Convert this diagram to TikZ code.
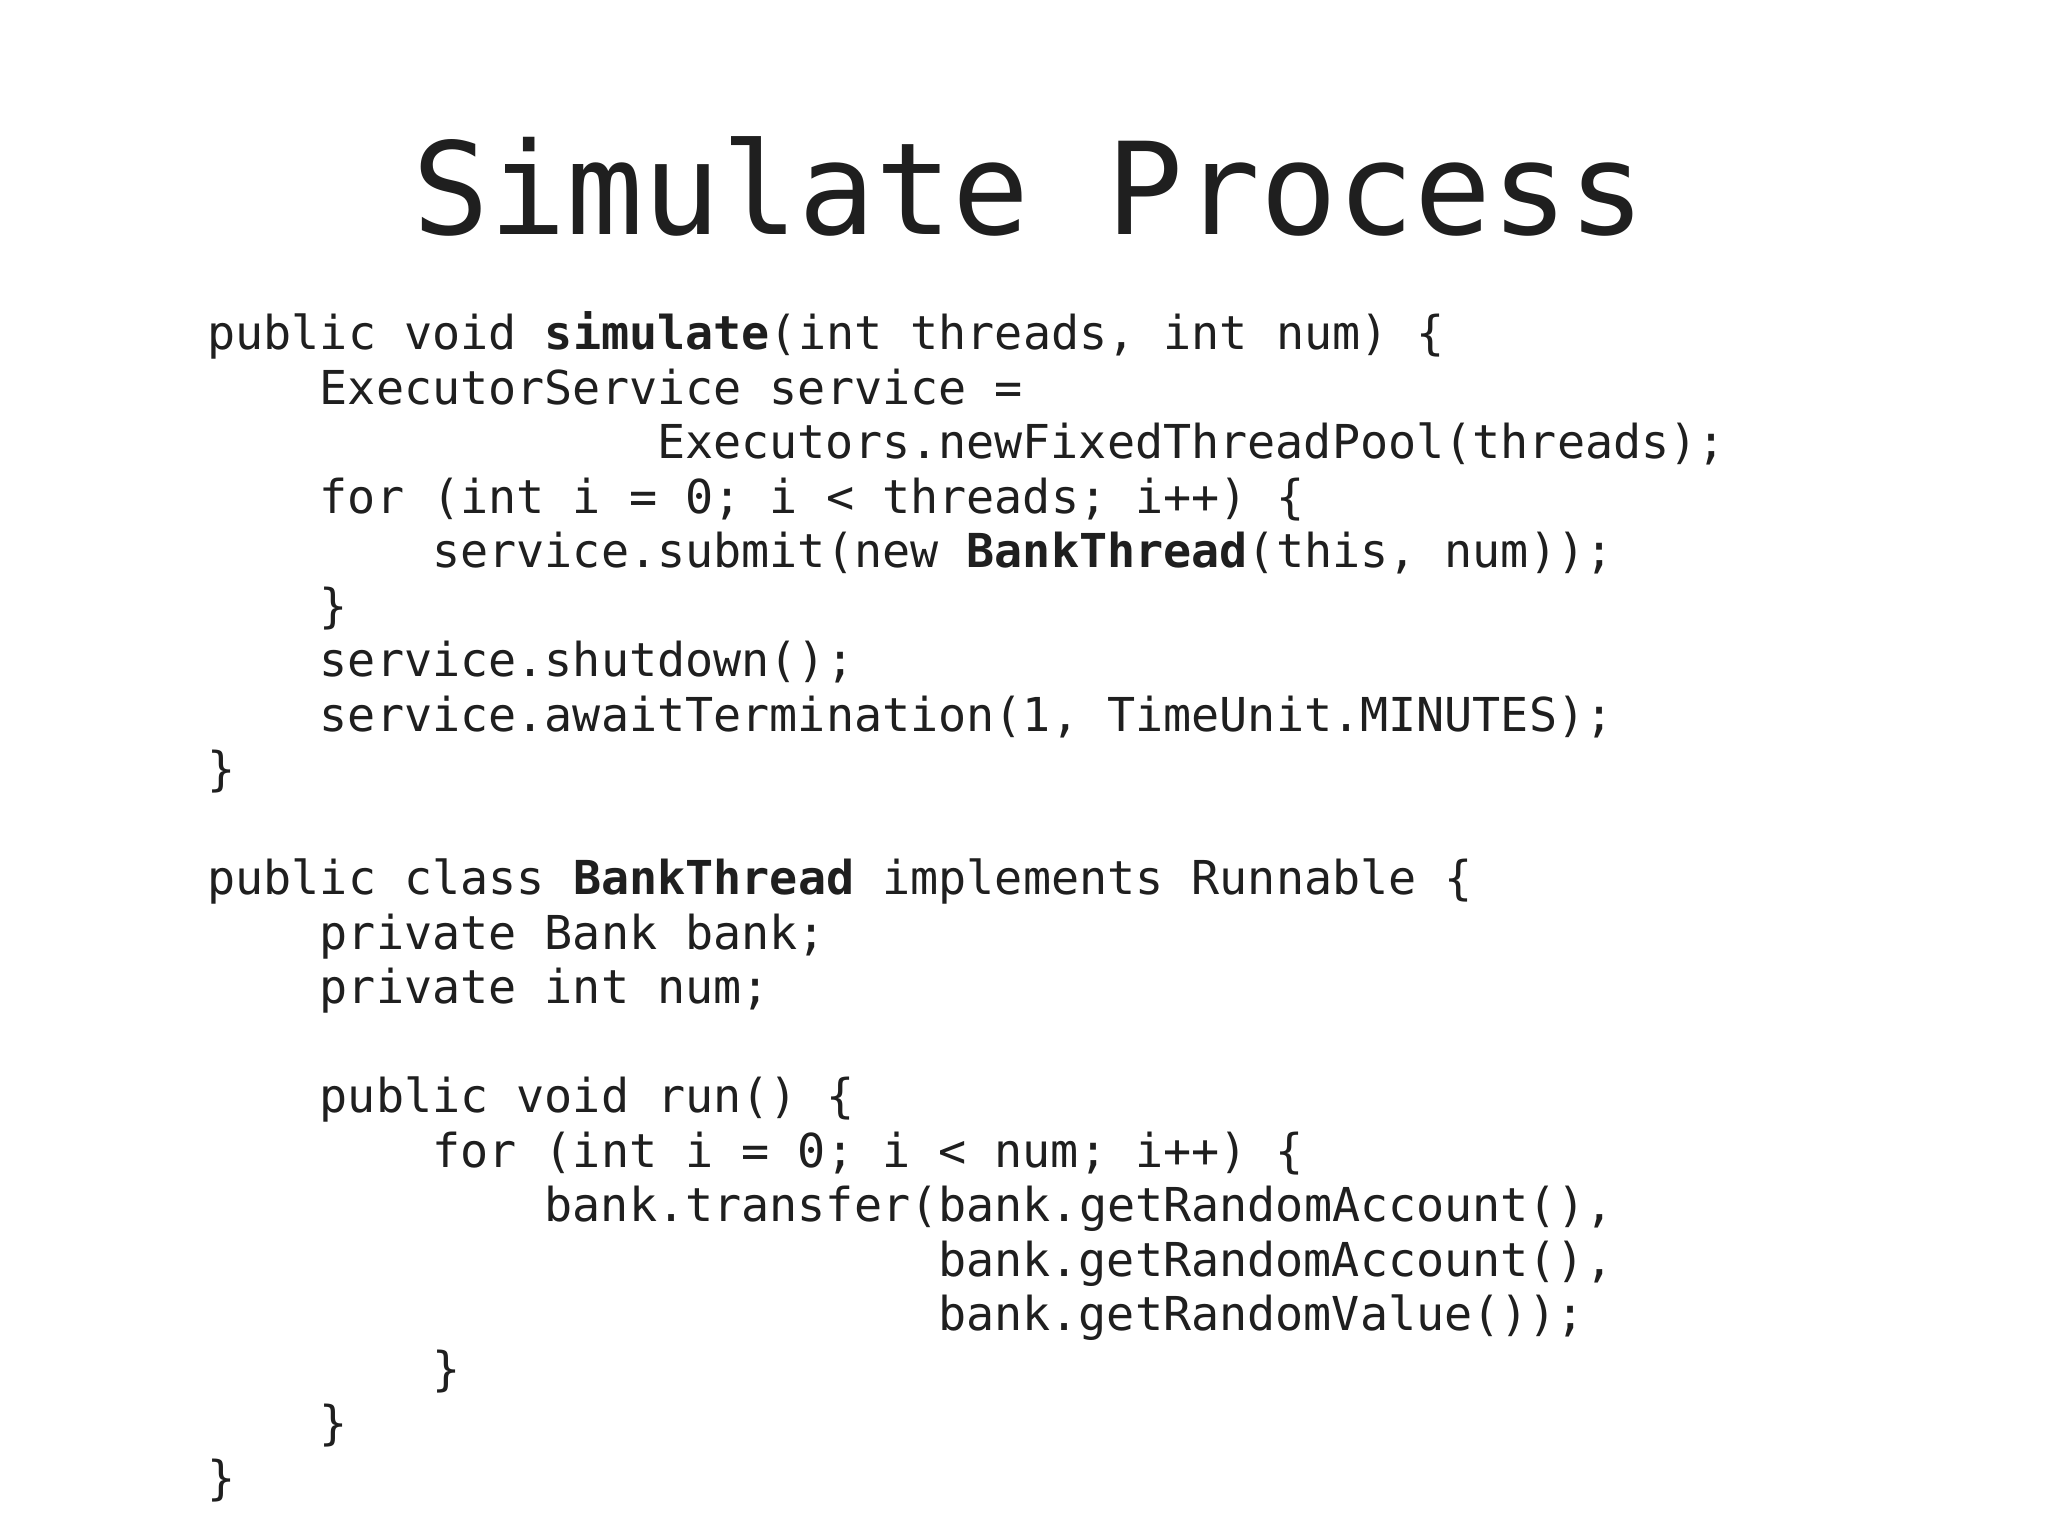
\documentclass[tikz,border=0pt]{standalone}
\usepackage{fontspec}
\setmonofont{DejaVu Sans Mono}
\begin{document}
\begin{tikzpicture}[x=1pt,y=-1pt,
  code/.style={anchor=base west,inner sep=0pt,font=\fontsize{35.4}{40}\selectfont\ttfamily,text=black!88},
  ttl/.style={anchor=base,inner sep=0pt,font=\fontsize{97}{100}\selectfont\ttfamily,text=black!88}]
\useasboundingbox[fill=white] (0,0) rectangle (1552,1164);
\node[ttl] (title) at (780,178) {Simulate Process};
\def\cw{21.3}
\def\lh{41.3}
\foreach \k/\i/\t [count=\n] in {
0/0/{public void \textbf{simulate}(int threads, int num) \{},
1/4/{ExecutorService service =},
2/16/{Executors.newFixedThreadPool(threads);},
3/4/{for (int i = 0; i < threads; i++) \{},
4/8/{service.submit(new \textbf{BankThread}(this, num));},
5/4/{\}},
6/4/{service.shutdown();},
7/4/{service.awaitTermination(1, TimeUnit.MINUTES);},
8/0/{\}},
10/0/{public class \textbf{BankThread} implements Runnable \{},
11/4/{private Bank bank;},
12/4/{private int num;},
14/4/{public void run() \{},
15/8/{for (int i = 0; i < num; i++) \{},
16/12/{bank.transfer(bank.getRandomAccount(),},
17/26/{bank.getRandomAccount(),},
18/26/{bank.getRandomValue());},
19/8/{\}},
20/4/{\}},
21/0/{\}}}
  \node[code] (l\n) at ({157+\i*\cw},{265+\k*\lh}) {\t};
\end{tikzpicture}
\end{document}
